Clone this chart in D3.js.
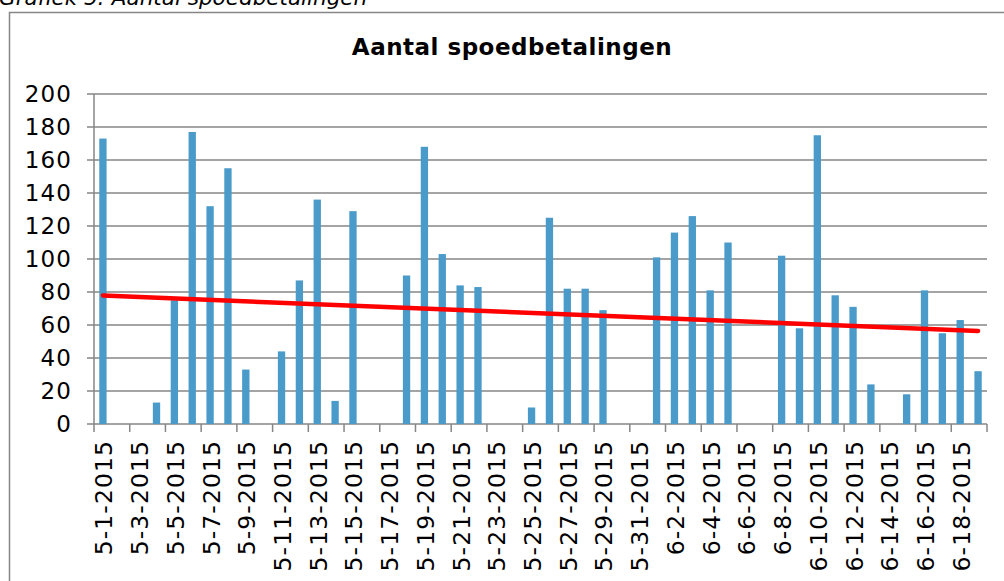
<!DOCTYPE html>
<html>
<head>
<meta charset="utf-8">
<script src="https://cdn.jsdelivr.net/npm/d3@7"></script>
<style>
  html, body { margin: 0; padding: 0; background: #fff; }
  svg { display: block; }
  text { font-family: "DejaVu Sans", Verdana, sans-serif; fill: #000; }
</style>
</head>
<body>
<svg id="chart" width="1004" height="581"></svg>
<script>
// ---- data ----
const dates = [
  "5-1-2015","5-2-2015","5-3-2015","5-4-2015","5-5-2015","5-6-2015","5-7-2015","5-8-2015","5-9-2015","5-10-2015",
  "5-11-2015","5-12-2015","5-13-2015","5-14-2015","5-15-2015","5-16-2015","5-17-2015","5-18-2015","5-19-2015","5-20-2015",
  "5-21-2015","5-22-2015","5-23-2015","5-24-2015","5-25-2015","5-26-2015","5-27-2015","5-28-2015","5-29-2015","5-30-2015",
  "5-31-2015","6-1-2015","6-2-2015","6-3-2015","6-4-2015","6-5-2015","6-6-2015","6-7-2015","6-8-2015","6-9-2015",
  "6-10-2015","6-11-2015","6-12-2015","6-13-2015","6-14-2015","6-15-2015","6-16-2015","6-17-2015","6-18-2015","6-19-2015"
];
const values = [
  173, 0, 0, 13, 75, 177, 132, 155, 33, 0,
  44, 87, 136, 14, 129, 0, 0, 90, 168, 103,
  84, 83, 0, 0, 10, 125, 82, 82, 69, 0,
  0, 101, 116, 126, 81, 110, 0, 0, 102, 58,
  175, 78, 71, 24, 0, 18, 81, 55, 63, 32
];
const yTicks = [0, 20, 40, 60, 80, 100, 120, 140, 160, 180, 200];
const captionText = "Grafiek 5: Aantal spoedbetalingen";
const titleText = "Aantal spoedbetalingen";

// ---- layout ----
const svg = d3.select("#chart");
const pLeft = 94, pRight = 987, pTop = 94, pBottom = 424;
const gridColor = "#868686";

// border of chart area
svg.append("rect")
  .attr("x", 9.5).attr("y", 12.5)
  .attr("width", 1100).attr("height", 700)
  .attr("fill", "none").attr("stroke", gridColor).attr("stroke-width", 1.5);

// caption (partly cut off at top, as in the source)
svg.append("text")
  .attr("x", -1).attr("y", 5)
  .attr("font-size", 21.5).attr("font-style", "italic")
  .text(captionText);

// title
svg.append("text")
  .attr("x", 512).attr("y", 55)
  .attr("text-anchor", "middle")
  .attr("font-size", 23).attr("font-weight", "bold")
  .attr("letter-spacing", 0.5)
  .text(titleText);

const x = d3.scaleBand().domain(dates).range([pLeft, pRight]).paddingInner(0.59).paddingOuter(0.295);
const y = d3.scaleLinear().domain([0, 200]).range([pBottom, pTop]);

// gridlines
svg.append("g")
  .selectAll("line").data(yTicks).join("line")
  .attr("x1", pLeft - 7).attr("x2", pRight)
  .attr("y1", d => y(d)).attr("y2", d => y(d))
  .attr("stroke", gridColor).attr("stroke-width", 1.5);

// y axis line
svg.append("line")
  .attr("x1", pLeft).attr("x2", pLeft).attr("y1", pTop).attr("y2", pBottom)
  .attr("stroke", gridColor).attr("stroke-width", 1.5);

// y labels
const yLs = 1.2;
svg.append("g")
  .selectAll("text").data(yTicks).join("text")
  .attr("x", 71 + yLs).attr("y", d => y(d))
  .attr("dy", "0.36em")
  .attr("text-anchor", "end")
  .attr("font-size", 23)
  .attr("letter-spacing", yLs)
  .text(d => d);

// bars
svg.append("g")
  .selectAll("rect").data(values).join("rect")
  .attr("x", (d, i) => x(dates[i]))
  .attr("width", x.bandwidth())
  .attr("y", d => y(d))
  .attr("height", d => y(0) - y(d))
  .attr("fill", "#4a9bca");

// x axis ticks at every second category boundary
const step = x.step();
const tickIdx = d3.range(0, dates.length + 1, 2);
svg.append("g")
  .selectAll("line").data(tickIdx).join("line")
  .attr("x1", i => pLeft + i * step).attr("x2", i => pLeft + i * step)
  .attr("y1", pBottom).attr("y2", pBottom + 8)
  .attr("stroke", gridColor).attr("stroke-width", 1.5);

// x labels (every second date), rotated
const xLs = 1.1;
const labelDates = dates.filter((d, i) => i % 2 === 0);
svg.append("g")
  .selectAll("text").data(labelDates).join("text")
  .attr("transform", d => `translate(${x(d) + x.bandwidth() / 2 + 1},${441 - xLs}) rotate(-90)`)
  .attr("dy", "0.36em")
  .attr("text-anchor", "end")
  .attr("font-size", 23.5)
  .attr("letter-spacing", xLs)
  .text(d => d);

// linear trendline (least squares)
const n = values.length;
const xs = d3.range(1, n + 1);
const mx = d3.mean(xs), my = d3.mean(values);
const slope = d3.sum(xs, (xv, i) => (xv - mx) * (values[i] - my)) / d3.sum(xs, xv => (xv - mx) ** 2);
const intercept = my - slope * mx;
const trend = [1, n].map(xv => ({ d: dates[xv - 1], v: intercept + slope * xv }));
svg.append("path")
  .datum(trend)
  .attr("d", d3.line().x(p => x(p.d) + x.bandwidth() / 2).y(p => y(p.v)))
  .attr("fill", "none")
  .attr("stroke", "#ff0000")
  .attr("stroke-width", 4.5)
  .attr("stroke-linecap", "round");
</script>
</body>
</html>
